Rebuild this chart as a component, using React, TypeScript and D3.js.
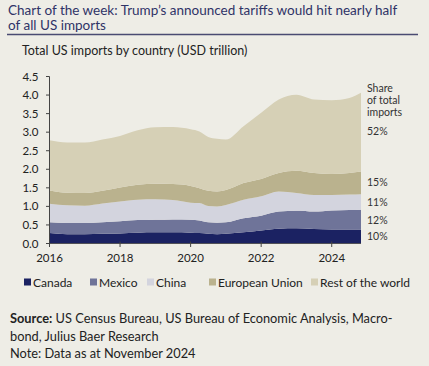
import React from "react"
import * as d3 from "d3"

// time points (fractional year) and values in USD trillion
const years = [2016.0, 2016.5, 2017.0, 2017.5, 2018.0, 2018.5, 2019.0, 2019.5, 2020.0, 2020.25, 2020.5, 2020.75, 2021.0, 2021.5, 2022.0, 2022.5, 2023.0, 2023.5, 2024.0, 2024.5, 2024.83]
const canada = [0.28, 0.25, 0.25, 0.26, 0.27, 0.29, 0.30, 0.30, 0.29, 0.28, 0.26, 0.25, 0.26, 0.30, 0.35, 0.40, 0.41, 0.39, 0.38, 0.38, 0.38]
const mexico = [0.29, 0.30, 0.30, 0.31, 0.33, 0.34, 0.34, 0.35, 0.35, 0.34, 0.31, 0.31, 0.31, 0.38, 0.40, 0.46, 0.47, 0.47, 0.51, 0.52, 0.53]
const china = [0.50, 0.48, 0.47, 0.51, 0.53, 0.55, 0.55, 0.52, 0.46, 0.47, 0.44, 0.44, 0.47, 0.50, 0.52, 0.54, 0.48, 0.45, 0.42, 0.42, 0.42]
const eu = [0.36, 0.34, 0.34, 0.34, 0.38, 0.40, 0.42, 0.43, 0.45, 0.40, 0.41, 0.40, 0.40, 0.45, 0.47, 0.50, 0.60, 0.59, 0.56, 0.58, 0.61]
const rest = [1.35, 1.35, 1.36, 1.38, 1.39, 1.47, 1.52, 1.54, 1.53, 1.53, 1.45, 1.42, 1.36, 1.53, 1.78, 1.98, 2.05, 1.98, 1.99, 2.02, 2.12]

const seriesNames = ["Canada", "Mexico", "China", "European Union", "Rest of the world"]
const seriesColors = ["#1b2262", "#6f7499", "#d3d4de", "#bab28e", "#d6d0b6"]
const shares = ["10%", "12%", "11%", "15%", "52%"]
const yTicks = [0, 0.5, 1, 1.5, 2, 2.5, 3, 3.5, 4, 4.5]
const xTicks = [2016, 2018, 2020, 2022, 2024]

const W = 429
const H = 366
const font = "Lato, 'Open Sans', sans-serif"

export default function App() {
  const x = d3.scaleLinear().domain([2016, 2024.83]).range([49.5, 361])
  const y = d3.scaleLinear().domain([0, 4.5]).range([243.5, 76.5])

  const keys = ["canada", "mexico", "china", "eu", "rest"]
  const cols = [canada, mexico, china, eu, rest]
  const rows = years.map((t, i) => {
    const r: any = { t }
    keys.forEach((k, j) => (r[k] = cols[j][i]))
    return r
  })
  const stacked = d3.stack().keys(keys)(rows)
  const area = d3
    .area<any>()
    .x((d) => x(d.data.t))
    .y0((d) => y(d[0]))
    .y1((d) => y(d[1]))
    .curve(d3.curveMonotoneX)

  // vertical position for share labels
  const shareY = [240, 224, 206, 186, 135]
  const legendX = [24, 90, 147, 209, 311]

  return (
    <svg width={W} height={H} style={{ position: "absolute", left: 0, top: 0 }} fontFamily={font}>
      <rect width={W} height={H} fill="#eeede6" />
      <text x={8} y={15} fontSize={13.5} fill="#2f3366">
        Chart of the week: Trump’s announced tariffs would hit nearly half
      </text>
      <text x={8} y={30} fontSize={13.5} fill="#2f3366">
        of all US imports
      </text>
      <line x1={7} x2={418} y1={34.5} y2={34.5} stroke="#4a4b72" strokeWidth={1.5} />
      <text x={22} y={55} fontSize={12.5} fill="#222">
        Total US imports by country (USD trillion)
      </text>

      {stacked.map((s, i) => (
        <path key={s.key} d={area(s as any) || ""} fill={seriesColors[i]} />
      ))}

      {/* y axis */}
      <line x1={49.5} x2={49.5} y1={y(4.5)} y2={y(0)} stroke="#444" strokeWidth={1} />
      {yTicks.map((v) => (
        <g key={v}>
          <line x1={46} x2={49.5} y1={y(v)} y2={y(v)} stroke="#444" />
          <text x={38.5} y={y(v) + 4} fontSize={11.5} textAnchor="end" fill="#222">
            {v.toFixed(1)}
          </text>
        </g>
      ))}
      {/* x axis */}
      <line x1={49.5} x2={361} y1={243.5} y2={243.5} stroke="#444" strokeWidth={0.8} />
      {xTicks.map((v) => (
        <g key={v}>
          <line x1={x(v)} x2={x(v)} y1={241.5} y2={247} stroke="#444" />
          <text x={x(v)} y={262} fontSize={11.5} textAnchor="middle" fill="#222">
            {v}
          </text>
        </g>
      ))}

      {/* share labels */}
      <g fontSize={10.5} fill="#333">
        <text x={367} y={92}>Share</text>
        <text x={367} y={104}>of total</text>
        <text x={367} y={116}>imports</text>
        {shares.map((s, i) => (
          <text key={s} x={367} y={shareY[i]}>
            {s}
          </text>
        ))}
      </g>

      {/* legend */}
      {seriesNames.map((n, i) => (
        <g key={n}>
          <rect x={legendX[i]} y={278.5} width={7} height={7} fill={seriesColors[i]} />
          <text x={legendX[i] + 9} y={287} fontSize={12} fill="#222">
            {n}
          </text>
        </g>
      ))}

      <g fontSize={12.8} fill="#222">
        <text x={10} y={323}>
          <tspan fontWeight="bold">Source:</tspan> US Census Bureau, US Bureau of Economic Analysis, Macro-
        </text>
        <text x={10} y={341}>bond, Julius Baer Research</text>
        <text x={10} y={358}>Note: Data as at November 2024</text>
      </g>
    </svg>
  )
}
